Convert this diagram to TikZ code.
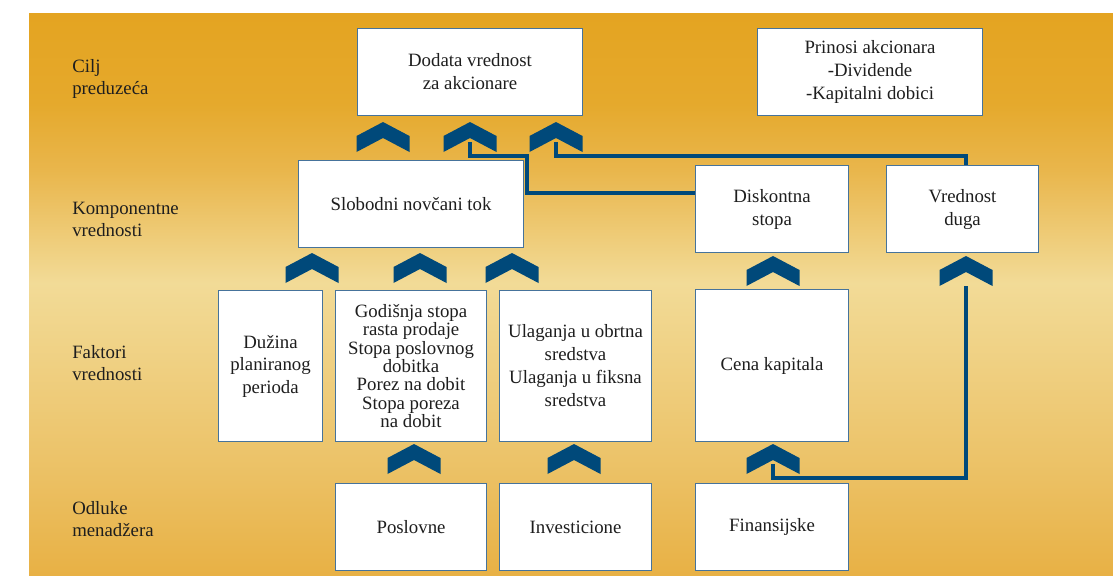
\documentclass[tikz,border=0pt]{standalone}
\usepackage{fontspec}
\setmainfont{Liberation Serif}
\usetikzlibrary{calc}

\definecolor{bgA}{HTML}{E4A421}
\definecolor{bgB}{HTML}{E5A92C}
\definecolor{bgC}{HTML}{E9B64C}
\definecolor{bgD}{HTML}{F2DB97}
\definecolor{bgE}{HTML}{ECC46B}
\definecolor{bgF}{HTML}{E8B145}
\definecolor{boxline}{RGB}{70,115,155}
\definecolor{chevc}{RGB}{0,73,122}
\definecolor{ink}{HTML}{1E1E1E}

% vertical background gradient: the path box is mapped onto 25bp..75bp
\pgfdeclareverticalshading{bgshade}{100bp}{%
  color(0bp)=(bgF); color(25bp)=(bgF); color(36bp)=(bgE);
  color(51bp)=(bgD); color(61bp)=(bgC); color(67bp)=(bgB);
  color(75bp)=(bgA); color(100bp)=(bgA)}

\tikzset{
  txt/.style={font=\rmfamily\fontsize{14.1}{#1}\selectfont, text=ink},
  txt/.default=17.25,
  bx/.style n args={2}{draw=boxline, line width=0.8pt, fill=white,
    inner sep=0pt, align=center, anchor=north west,
    minimum width=#1*0.75pt, minimum height=#2*0.75pt},
  lbl/.style={txt=16.5, align=left, anchor=west, inner sep=0pt},
  conn/.style={draw=chevc, line width=2.3pt},
  chev/.pic={
    \fill[chevc] (-26.5,14) -- (0,0) -- (26.5,14) -- (26.5,30)
      -- (0,16) -- (-26.5,30) -- cycle;
    \coordinate (-in) at (0,20);
    \coordinate (-base) at (0,30);
  }
}

\begin{document}
\begin{tikzpicture}[x=0.75pt,y=-0.75pt]
  \useasboundingbox (0,0) rectangle (1113,575);
  \fill[white] (0,0) rectangle (1113,575);
  \shade[shading=bgshade] (29,13) rectangle (1113,575);

  % level labels
  \node[lbl] (l1) at (72,79)  {Cilj\\preduzeća};
  \node[lbl] (l2) at (72,219) {Komponentne\\vrednosti};
  \node[lbl] (l3) at (72,363) {Faktori\\vrednosti};
  \node[lbl] (l4) at (72,519) {Odluke\\menadžera};

  % goal
  \node[bx={225}{87}, txt=17.25] (goal) at (357,28) {Dodata vrednost\\za akcionare};
  \node[bx={225}{87}, txt=17] (prin) at (757,28) {Prinosi akcionara\\-Dividende\\-Kapitalni dobici};

  % value components
  \node[bx={225}{87}, txt] (fcf) at (298,160) {Slobodni novčani tok};
  \node[bx={153}{87}, txt] (disk) at (695,165) {Diskontna\\stopa};
  \node[bx={152}{87}, txt] (duga) at (886,165) {Vrednost\\duga};

  % value drivers
  \node[bx={104}{151}, txt=16.9] (duz) at (218,290) {Dužina\\planiranog\\perioda};
  \node[bx={151}{151}, txt=13.8] (god) at (335,290) {Godišnja stopa\\rasta prodaje\\Stopa poslovnog\\dobitka\\Porez na dobit\\Stopa poreza\\na dobit};
  \node[bx={152}{151}, txt=17.25] (ula) at (499,290) {Ulaganja u obrtna\\sredstva\\Ulaganja u fiksna\\sredstva};
  \node[bx={153}{152}, txt] (cena) at (695,289) {Cena kapitala};

  % management decisions
  \node[bx={151}{87}, txt] (posl) at (335,483) {Poslovne};
  \node[bx={152}{87}, txt] (inv) at (499,483) {Investicione};
  \node[bx={153}{87}, txt] (fin) at (695,483) {Finansijske};

  % chevrons
  \pic (a1) at (383,122) {chev};
  \pic (a2) at (470,122) {chev};
  \pic (a3) at (556,122) {chev};
  \pic (b1) at (312,253) {chev};
  \pic (b2) at (420,253) {chev};
  \pic (b3) at (512,253) {chev};
  \pic (b4) at (773,256) {chev};
  \pic (b5) at (966,256) {chev};
  \pic (c1) at (414,444) {chev};
  \pic (c2) at (574,444) {chev};
  \pic (c3) at (773,444) {chev};

  % connectors
  \coordinate (j1) at (527,156);
  \coordinate (j2) at (966,156);
  \coordinate (j3) at (966,478);
  \draw[conn] (a2-in) |- (j1) -- (j1 |- 0,193) -- ($(disk.north west)+(0,28)$);
  \draw[conn] (a3-in) |- (j2) -- (j2 |- duga.north);
  \draw[conn] (c3-in) |- (j3) -- (b5-base);
\end{tikzpicture}
\end{document}
